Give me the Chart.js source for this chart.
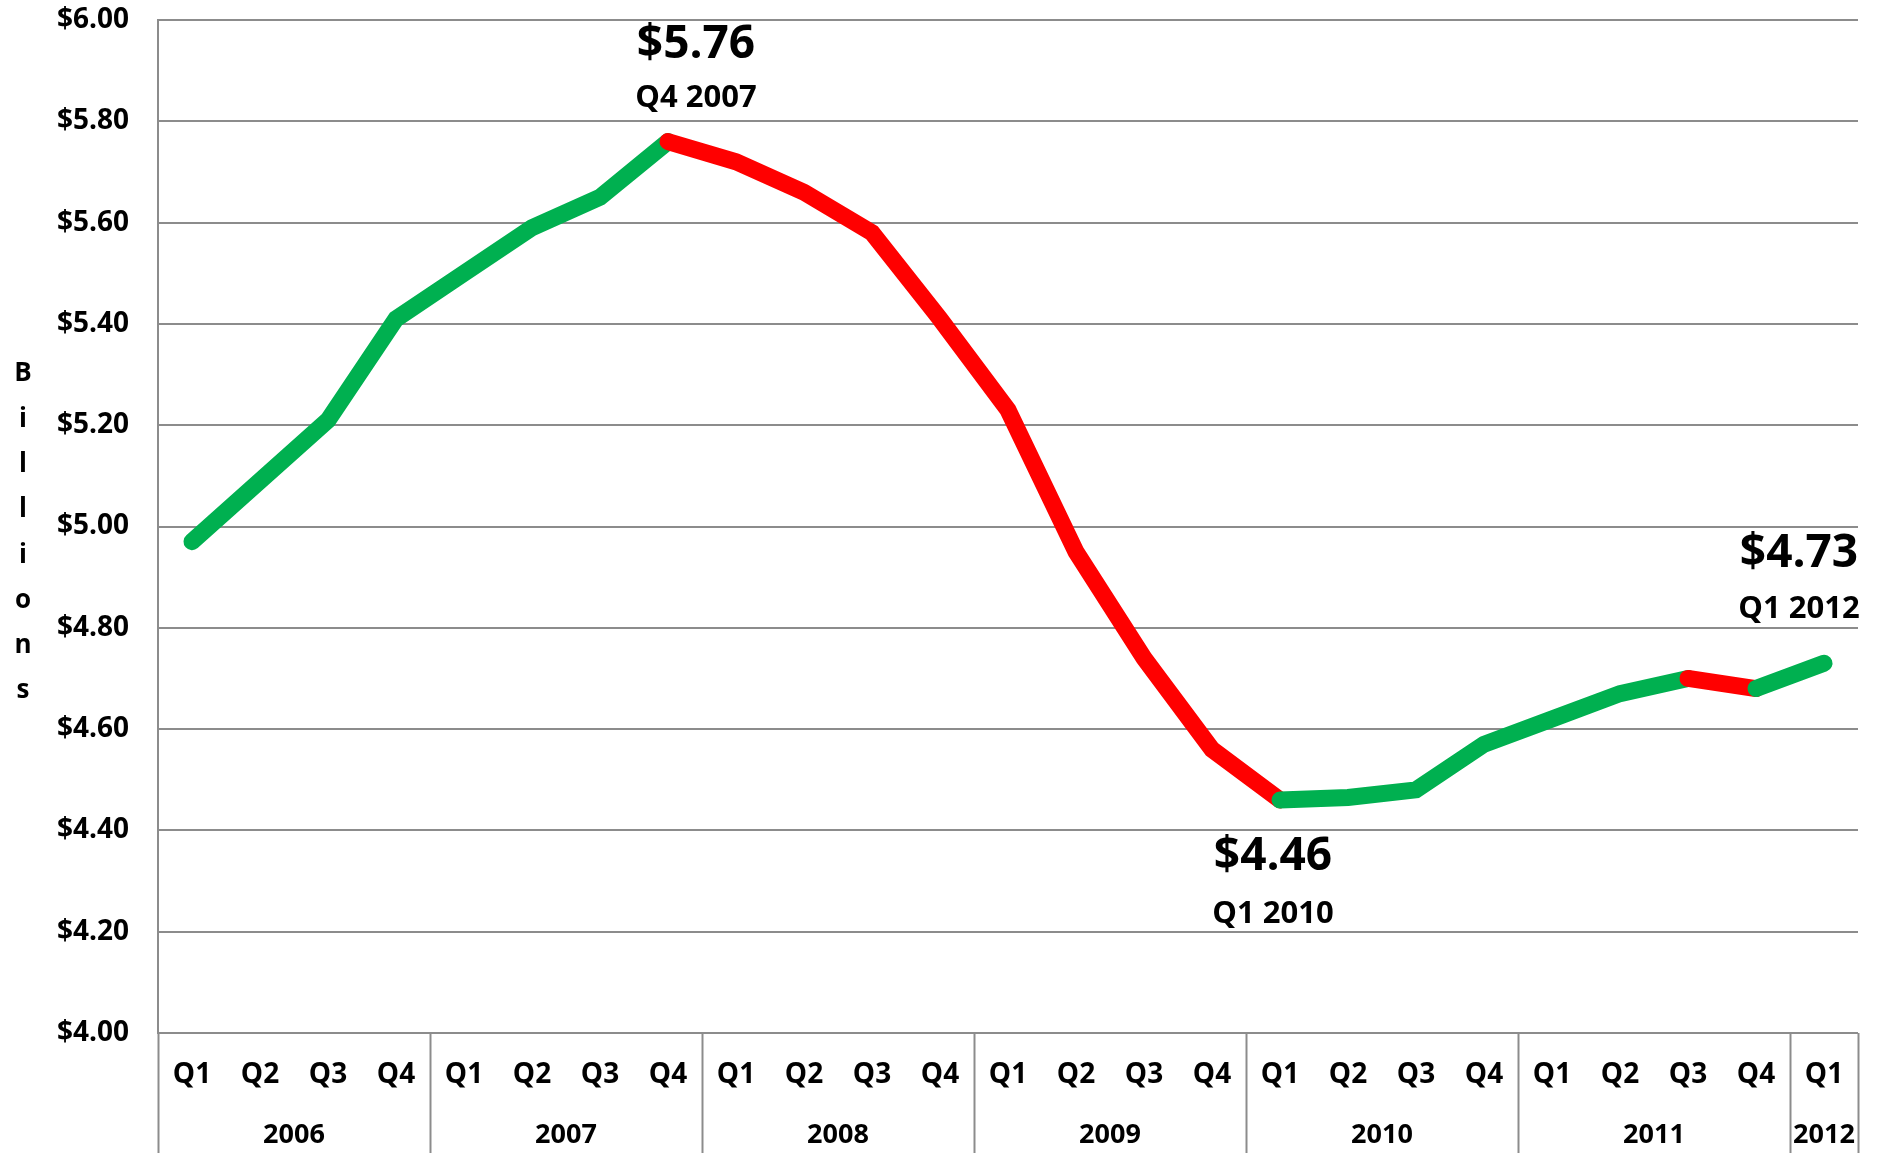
<!DOCTYPE html>
<html>
<head>
<meta charset="utf-8">
<script src="https://cdn.jsdelivr.net/npm/chart.js@4.4.1/dist/chart.umd.min.js"></script>
<style>
    html, body { margin: 0; padding: 0; background: #ffffff; }
</style>
</head>
<body>
<canvas id="myChart" width="1885" height="1153"></canvas>
<script>
// quarterly values, billions of dollars
const quarters = ['Q1', 'Q2', 'Q3', 'Q4', 'Q1', 'Q2', 'Q3', 'Q4', 'Q1', 'Q2', 'Q3', 'Q4',
    'Q1', 'Q2', 'Q3', 'Q4', 'Q1', 'Q2', 'Q3', 'Q4', 'Q1', 'Q2', 'Q3', 'Q4', 'Q1'];
const quarterYears = ['2006', '2006', '2006', '2006', '2007', '2007', '2007', '2007',
    '2008', '2008', '2008', '2008', '2009', '2009', '2009', '2009',
    '2010', '2010', '2010', '2010', '2011', '2011', '2011', '2011', '2012'];
const years = ['2006', '2007', '2008', '2009', '2010', '2011', '2012'];
const values = [4.97, 5.09, 5.21, 5.41, 5.50, 5.59, 5.65, 5.76, 5.72, 5.66, 5.58, 5.41,
    5.23, 4.95, 4.74, 4.56, 4.46, 4.465, 4.48, 4.57, 4.62, 4.67, 4.70, 4.68, 4.73];
const yTicks = [4.0, 4.2, 4.4, 4.6, 4.8, 5.0, 5.2, 5.4, 5.6, 5.8, 6.0];
const axisTitle = 'Billions';
const calloutIndexes = [7, 16, 24];

const GREEN = '#00b050';
const RED = '#ff0000';
const GRID = '#8c8c8c';
const FONT = '"Open Sans", Lato, sans-serif';

// where each callout sits relative to its point
const calloutPlace = {
    7: {dx: 28, dyValue: -97, dyDate: -43},
    16: {dx: -7, dyValue: 57, dyDate: 114},
    24: {dx: -25, dyValue: -109, dyDate: -54}
};

const extras = {
    id: 'extras',
    afterDraw(chart) {
        const {ctx, chartArea, scales: {x}} = chart;
        const band = x.getPixelForValue(1) - x.getPixelForValue(0);
        const H = chart.height;
        ctx.save();

        // year separators below the plot
        ctx.strokeStyle = GRID;
        ctx.lineWidth = 2;
        const edges = [chartArea.left];
        years.forEach(y => {
            const last = quarterYears.lastIndexOf(y);
            edges.push(x.getPixelForValue(last) + band / 2);
        });
        edges.forEach(px => {
            const xx = Math.round(px) + 0.5;
            ctx.beginPath();
            ctx.moveTo(xx, chartArea.bottom);
            ctx.lineTo(xx, H);
            ctx.stroke();
        });

        // year labels
        ctx.fillStyle = '#000';
        ctx.font = 'bold 27px ' + FONT;
        ctx.textAlign = 'center';
        ctx.textBaseline = 'middle';
        years.forEach((y, i) => {
            ctx.fillText(y, (edges[i] + edges[i + 1]) / 2, 1135);
        });

        // stacked axis title
        ctx.font = 'bold 26px ' + FONT;
        const mid = (chartArea.top + chartArea.bottom) / 2 + 6;
        const chars = axisTitle.split('');
        chars.forEach((c, i) => {
            ctx.fillText(c, 23, mid + (i - (chars.length - 1) / 2) * 45.3);
        });

        // callouts
        const meta = chart.getDatasetMeta(0);
        calloutIndexes.forEach(idx => {
            const pt = meta.data[idx];
            const p = calloutPlace[idx];
            ctx.font = 'bold 46px ' + FONT;
            ctx.fillText('$' + values[idx].toFixed(2), pt.x + p.dx, pt.y + p.dyValue);
            ctx.font = 'bold 31px ' + FONT;
            ctx.fillText(quarters[idx] + ' ' + quarterYears[idx], pt.x + p.dx, pt.y + p.dyDate);
        });
        ctx.restore();
    }
};

new Chart(document.getElementById('myChart'), {
    type: 'line',
    data: {
        labels: quarters,
        datasets: [{
            data: values,
            borderColor: GREEN,
            borderWidth: 17,
            borderCapStyle: 'round',
            borderJoinStyle: 'miter',
            pointRadius: 0,
            tension: 0,
            segment: {
                borderColor: ctx => ctx.p1.parsed.y < ctx.p0.parsed.y ? RED : GREEN
            }
        }]
    },
    options: {
        responsive: false,
        animation: false,
        layout: {padding: {left: 0, right: 27, top: 20, bottom: 0}},
        plugins: {legend: {display: false}, tooltip: {enabled: false}},
        scales: {
            x: {
                offset: true,
                grid: {display: false, drawTicks: false},
                border: {display: false},
                ticks: {
                    autoSkip: false, maxRotation: 0, padding: 25,
                    color: '#000',
                    font: {family: FONT, size: 28, weight: 'bold'}
                },
                afterFit: s => { s.height = 120; s.paddingLeft = 0; s.paddingRight = 0; }
            },
            y: {
                min: 4, max: 6,
                afterBuildTicks: s => { s.ticks = yTicks.map(v => ({value: v})); },
                grid: {color: GRID, lineWidth: 2, drawTicks: false},
                border: {display: true, color: GRID, width: 2},
                ticks: {
                    padding: 29,
                    color: '#000',
                    font: {family: FONT, size: 28, weight: 'bold'},
                    callback: v => '$' + Number(v).toFixed(2)
                },
                afterFit: s => { s.width = 158; s.paddingTop = 0; s.paddingBottom = 0; }
            }
        }
    },
    plugins: [extras]
});
</script>
</body>
</html>
